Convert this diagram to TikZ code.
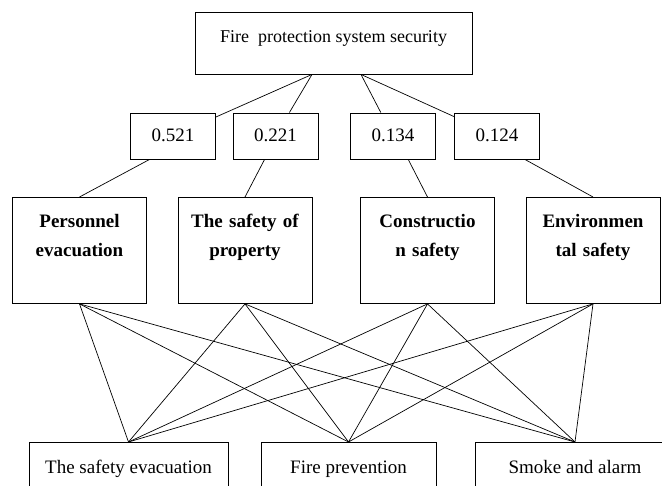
\documentclass[tikz,border=0pt]{standalone}
\usepackage{fontspec}
\setmainfont{Liberation Serif}
\usetikzlibrary{calc}

\begin{document}
\begin{tikzpicture}[x=1pt, y=-1pt, line width=0.7pt,
    box/.style={draw, line width=0.9pt, inner sep=0pt, font=\fontsize{19}{30}\selectfont},
    goalbox/.style={box, minimum width=277pt, text height=31pt, text depth=31pt, font=\fontsize{18}{22}\selectfont},
    weightbox/.style={box, minimum width=85pt, text height=29pt, text depth=17pt},
    critbox/.style={box, text width=134pt, align=center, text height=30pt, text depth=76pt, font=\bfseries\fontsize{19}{29}\selectfont},
    itembox/.style={box, text height=31pt, text depth=19pt}]
  \useasboundingbox (0,0) rectangle (662,486);

  \node[goalbox] (goal) at (333.5,43) {Fire\enspace protection system security};

  \node[weightbox] (w1) at (173,136) {0.521};
  \node[weightbox] (w2) at (275.5,136) {0.221};
  \node[weightbox] (w3) at (393,136) {0.134};
  \node[weightbox] (w4) at (497,136) {0.124};

  \node[critbox, anchor=north] (c1) at (79.5,197) {Personnel\\evacuation};
  \node[critbox, anchor=north] (c2) at (245,197) {The safety of\\property};
  \node[critbox, anchor=north] (c3) at (427.5,197) {Constructio\\n safety};
  \node[critbox, anchor=north] (c4) at (593,197) {Environmen\\tal safety};

  \node[itembox, minimum width=199pt, anchor=north] (i1) at (128.5,442) {The safety evacuation};
  \node[itembox, minimum width=175pt, anchor=north] (i2) at (348.5,442) {Fire prevention};
  \node[itembox, minimum width=200pt, anchor=north] (i3) at (575,442) {Smoke and alarm};

  % goal to weights
  \coordinate (gl) at ($(goal.south)+(-21.5,0)$);
  \coordinate (gr) at ($(goal.south)+(27.5,0)$);
  \draw (gl) -- (w1);
  \draw (gl) -- (w2);
  \draw (gr) -- (w3);
  \draw (gr) -- (w4);

  % weights to criteria
  \foreach \w/\c/\a in {w1/c1/-135, w2/c2/-115, w3/c3/-57, w4/c4/-40}
    \draw (\w.\a) -- (\c.north);

  % criteria to items
  \foreach \c in {c1,c2,c3,c4}
    \foreach \i in {i1,i2,i3}
      \draw (\c.south) -- (\i.north);
\end{tikzpicture}
\end{document}
